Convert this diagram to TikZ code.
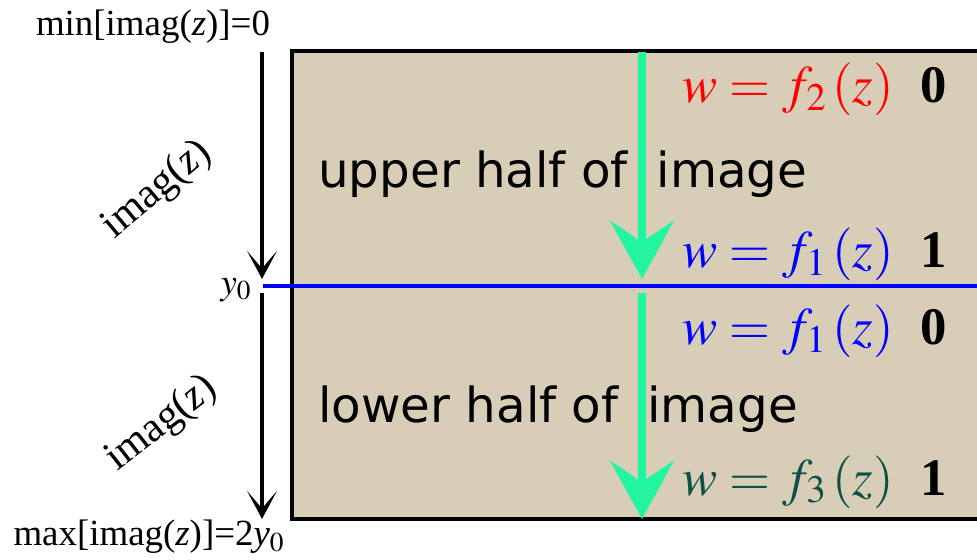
\documentclass[tikz,border=0pt]{standalone}
\usepackage{mathptmx}
\usepackage{fontspec}
\setmainfont{Liberation Serif}
\newfontfamily\handfont{DejaVu Sans}
\usetikzlibrary{arrows.meta, positioning}
\definecolor{canvascolor}{HTML}{D8CDB7}
\definecolor{splitcolor}{HTML}{0000FF}
\definecolor{flowcolor}{HTML}{22F59F}
\definecolor{fonecolor}{HTML}{0000FF}
\definecolor{ftwocolor}{HTML}{FF0000}
\definecolor{fthreecolor}{HTML}{0D5047}

\begin{document}
\begin{tikzpicture}[x=0.02cm, y=-0.02cm,
    axis/.style={line width=2pt, -{Stealth[length=16pt, width=17pt, inset=10pt]}},
    flow/.style={draw=flowcolor, line width=4.8pt, -{Stealth[length=33pt, width=36pt, inset=12pt]}},
    lim/.style={font=\fontsize{21}{24}\selectfont},
    tilt/.style={font=\fontsize{24}{28}\selectfont},
    half/.style={font=\handfont\fontsize{27.5}{32}\selectfont, anchor=base west, inner sep=0pt},
    eq/.style={font=\fontsize{30}{34}\selectfont, anchor=base east, inner sep=0pt}
]
    \useasboundingbox (0,0) rectangle (977,560);
    \clip (0,0) rectangle (977,560);

    % --- image area ---
    \fill[canvascolor] (292,51) rectangle (990,519);
    \draw[line width=2.2pt] (990,51) -- (292,51) -- (292,519) -- (990,519);
    \coordinate (ytop) at (262,52);
    \coordinate (ymid) at (262,279);
    \coordinate (ymidb) at (262,293);
    \coordinate (ybot) at (262,519);
    \coordinate (splitl) at (263,286);
    \coordinate (splitr) at (990,286);
    \draw[splitcolor, line width=2.2pt] (splitl) -- (splitr);

    % --- imag(z) axis ---
    \node[lim] (minlbl) at (153,27) {min[imag(\textit{z})]=0};
    \node[lim] (maxlbl) at (149,537) {max[imag(\textit{z})]=2\textit{y}$_0$};
    \node[lim] (ylbl) at (236,290) {$y_0$};
    \node[tilt, rotate=40] (upimag) at (157,190) {imag(\textit{z})};
    \node[tilt, rotate=38] (loimag) at (162,424) {imag(\textit{z})};
    \draw[axis] (ytop) -- (ymid);
    \draw[axis] (ymidb) -- (ybot);

    % --- halves ---
    \node[half] (upper) at (318,188) {upper half of\hspace{0.6em}image};
    \node[half] (lower) at (318,422) {lower half of\hspace{0.6em}image};

    % --- scan direction ---
    \coordinate (ftop) at (642,52);
    \coordinate (fmid) at (642,279);
    \coordinate (fmidb) at (642,293);
    \coordinate (fbot) at (642,519);
    \draw[flow] (ftop) -- (fmid);
    \draw[flow] (fmidb) -- (fbot);

    % --- mappings ---
    \node[eq, text=ftwocolor] (eqtwo) at (947,103) {$w=f_2\left(z\right)$\hspace{0.5em}\textcolor{black}{\textbf{0}}};
    \node[eq, text=fonecolor] (eqoneu) at (947,268) {$w=f_1\left(z\right)$\hspace{0.5em}\textcolor{black}{\textbf{1}}};
    \node[eq, text=fonecolor] (eqonel) at (947,345) {$w=f_1\left(z\right)$\hspace{0.5em}\textcolor{black}{\textbf{0}}};
    \node[eq, text=fthreecolor] (eqthree) at (947,495) {$w=f_3\left(z\right)$\hspace{0.5em}\textcolor{black}{\textbf{1}}};
\end{tikzpicture}
\end{document}
